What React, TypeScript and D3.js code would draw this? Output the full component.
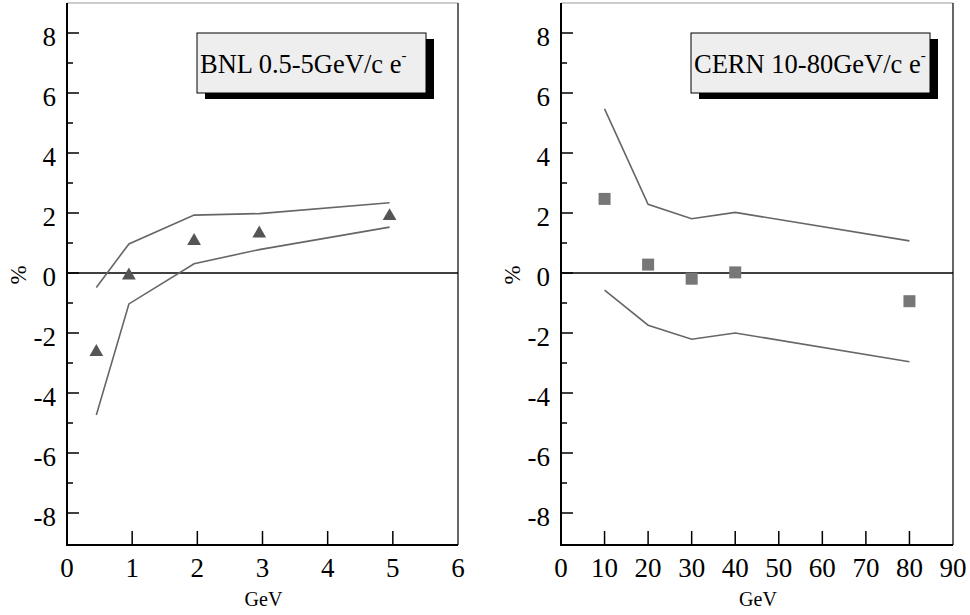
import React from "react";
import * as d3 from "d3";

const bnlEnergy = [0.45, 0.95, 1.95, 2.95, 4.95];
const bnlValue = [-2.6, -0.05, 1.1, 1.35, 1.93];
const bnlUpper = [-0.48, 0.97, 1.93, 1.98, 2.34];
const bnlLower = [-4.73, -1.03, 0.31, 0.78, 1.53];

const cernEnergy = [10, 20, 30, 40, 80];
const cernValue = [2.47, 0.28, -0.19, 0.02, -0.94];
const cernUpper = [5.47, 2.29, 1.81, 2.02, 1.07];
const cernLower = [-0.57, -1.74, -2.21, -2.0, -2.96];

const yMajorTicks = [-8, -6, -4, -2, 0, 2, 4, 6, 8];
const yMinorTicks = [-7, -5, -3, -1, 1, 3, 5, 7];
const bnlXTicks = [0, 1, 2, 3, 4, 5, 6];
const cernXTicks = [0, 10, 20, 30, 40, 50, 60, 70, 80, 90];

const FONT = "'Liberation Serif', 'Times New Roman', serif";

type PanelProps = {
  x0: number;
  x1: number;
  domain: [number, number];
  xTicks: number[];
  energy: number[];
  value: number[];
  upper: number[];
  lower: number[];
  marker: "triangle" | "square";
  label: string;
  boxX: number;
  boxW: number;
};

function Panel(p: PanelProps) {
  const y = d3.scaleLinear().domain([-9, 9]).range([543, 3]);
  const x = d3.scaleLinear().domain(p.domain).range([p.x0, p.x1]);
  const line = d3
    .line<[number, number]>()
    .x((d) => x(d[0]))
    .y((d) => y(d[1]));
  const up = p.energy.map((e, i) => [e, p.upper[i]] as [number, number]);
  const lo = p.energy.map((e, i) => [e, p.lower[i]] as [number, number]);
  const yTop = y(9);
  const yBot = 545;
  const tri = d3.symbol().type(d3.symbolTriangle).size(82)();
  return (
    <g>
      {/* frame */}
      <line x1={p.x0} x2={p.x1} y1={yTop} y2={yTop} stroke="#999" strokeWidth={1} />
      <line x1={p.x1} x2={p.x1} y1={yTop} y2={yBot} stroke="#333" strokeWidth={1.5} />
      {/* zero line */}
      <line x1={p.x0} x2={p.x1} y1={y(0)} y2={y(0)} stroke="#000" strokeWidth={1.6} />
      {/* band lines */}
      <path d={line(up) || ""} fill="none" stroke="#666" strokeWidth={1.6} />
      <path d={line(lo) || ""} fill="none" stroke="#666" strokeWidth={1.6} />
      {/* markers */}
      {p.energy.map((e, i) =>
        p.marker === "triangle" ? (
          <path
            key={i}
            d={tri || ""}
            transform={`translate(${x(e)},${y(p.value[i]) + 1})`}
            fill="#555"
          />
        ) : (
          <rect
            key={i}
            x={x(e) - 6}
            y={y(p.value[i]) - 6}
            width={12}
            height={12}
            fill="#777"
          />
        )
      )}
      {/* y axis */}
      <line x1={p.x0} x2={p.x0} y1={yTop} y2={yBot} stroke="#000" strokeWidth={2} />
      {yMajorTicks.map((t) => (
        <g key={"M" + t}>
          <line x1={p.x0} x2={p.x0 + 12} y1={y(t)} y2={y(t)} stroke="#000" strokeWidth={1.5} />
          <text
            x={p.x0 - 11}
            y={y(t) + 13}
            textAnchor="end"
            fontFamily={FONT}
            fontSize={27}
            fill="#000"
          >
            {t < 0 ? "-" + Math.abs(t) : String(t)}
          </text>
        </g>
      ))}
      {yMinorTicks.map((t) => (
        <line key={"m" + t} x1={p.x0} x2={p.x0 + 6} y1={y(t)} y2={y(t)} stroke="#000" strokeWidth={1.5} />
      ))}
      <text
        transform={`translate(${p.x0 - 41},${y(0) + 2}) rotate(-90)`}
        textAnchor="middle"
        fontFamily={FONT}
        fontSize={23}
        fill="#000"
      >
        %
      </text>
      {/* x axis */}
      <line x1={p.x0 - 1} x2={p.x1} y1={yBot} y2={yBot} stroke="#000" strokeWidth={2} />
      {p.xTicks.map((t) => (
        <g key={"x" + t}>
          {t !== p.domain[0] && t !== p.domain[1] && (
            <line x1={x(t)} x2={x(t)} y1={yBot} y2={yBot - 14} stroke="#000" strokeWidth={1.5} />
          )}
          <text
            x={x(t)}
            y={577}
            textAnchor="middle"
            fontFamily={FONT}
            fontSize={27}
            fill="#000"
          >
            {t}
          </text>
        </g>
      ))}
      <text
        x={(p.x0 + p.x1) / 2 + 1}
        y={606}
        textAnchor="middle"
        fontFamily={FONT}
        fontSize={20}
        fill="#000"
      >
        GeV
      </text>
      {/* legend box */}
      <rect x={p.boxX + 8} y={39} width={p.boxW} height={60} fill="#000" />
      <rect x={p.boxX} y={33} width={p.boxW} height={60} fill="#eeeeee" stroke="#000" strokeWidth={1} />
      <text x={p.boxX + 3} y={73} fontFamily={FONT} fontSize={26.5} fill="#000">
        {p.label}
        <tspan fontSize={15} dy={-13}>
          -
        </tspan>
      </text>
    </g>
  );
}

export default function App() {
  return (
    <svg
      width={970}
      height={615}
      style={{ position: "absolute", left: 0, top: 0, background: "#fff" }}
    >
      <rect x={0} y={0} width={970} height={615} fill="#fff" />
      <Panel
        x0={67}
        x1={458}
        domain={[0, 6]}
        xTicks={bnlXTicks}
        energy={bnlEnergy}
        value={bnlValue}
        upper={bnlUpper}
        lower={bnlLower}
        marker="triangle"
        label="BNL 0.5-5GeV/c e"
        boxX={197}
        boxW={229}
      />
      <Panel
        x0={561}
        x1={953}
        domain={[0, 90]}
        xTicks={cernXTicks}
        energy={cernEnergy}
        value={cernValue}
        upper={cernUpper}
        lower={cernLower}
        marker="square"
        label="CERN 10-80GeV/c e"
        boxX={691}
        boxW={239}
      />
    </svg>
  );
}
